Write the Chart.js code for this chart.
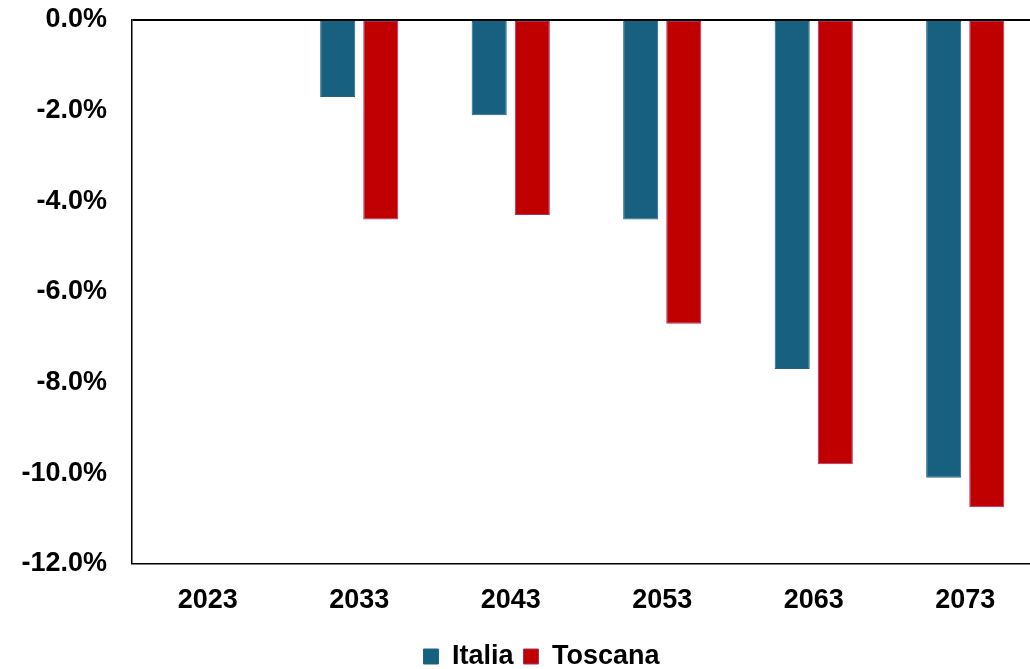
<!DOCTYPE html>
<html>
<head>
<meta charset="utf-8">
<script src="https://cdn.jsdelivr.net/npm/chart.js@4"></script>
<style>
  html, body { margin: 0; padding: 0; background: #fff; overflow: hidden; }
  #wrap { width: 1030px; height: 669px; overflow: hidden; position: relative; }
  #box { width: 1082px; height: 680px; position: absolute; left: 0; top: 0; }
</style>
</head>
<body>
<div id="wrap"><div id="box"><canvas id="c" width="1082" height="680"></canvas></div></div>
<script>
const categories = ['2023', '2033', '2043', '2053', '2063', '2073'];
const italia = [0, -1.7, -2.1, -4.4, -7.7, -10.1];
const toscana = [0, -4.4, -4.3, -6.7, -9.8, -10.75];
const seriesNames = ['Italia', 'Toscana'];

const FONT = { family: '"Liberation Sans", Arial, sans-serif', size: 27, weight: 'bold' };

// shift the legend so it is centred on the full (uncropped) chart width
const legendShift = {
  id: 'legendShift',
  afterLayout(chart) {
    const lg = chart.legend;
    if (!lg) return;
    const dx = 21;
    lg.left += dx; lg.right += dx;
    if (lg.legendHitBoxes) lg.legendHitBoxes.forEach(h => { h.left += dx; });
  }
};

new Chart(document.getElementById('c'), {
  type: 'bar',
  data: {
    labels: categories,
    datasets: [
      { label: seriesNames[0], data: italia, backgroundColor: '#17607F', borderColor: '#1E6585', borderWidth: 1, borderSkipped: false },
      { label: seriesNames[1], data: toscana, backgroundColor: '#C00000', borderColor: '#A8306A', borderWidth: 1, borderSkipped: false }
    ]
  },
  plugins: [legendShift],
  options: {
    responsive: false,
    animation: false,
    devicePixelRatio: 1,
    datasets: { bar: { categoryPercentage: 0.569, barPercentage: 0.814 } },
    layout: { padding: { top: 0, left: 0, right: 41, bottom: 0 } },
    scales: {
      x: {
        grid: { display: false, drawTicks: false },
        border: { display: true, color: '#000', width: 1.5 },
        ticks: { color: '#000', font: FONT, padding: 20, maxRotation: 0 },
        afterFit: (s) => { s.height = 69; s.paddingLeft = 0; s.paddingRight = 0; }
      },
      y: {
        min: -12, max: 0,
        grid: {
          drawTicks: false,
          color: (ctx) => (ctx.tick && ctx.tick.value === 0) ? '#000' : 'rgba(0,0,0,0)',
          lineWidth: (ctx) => (ctx.tick && ctx.tick.value === 0) ? 2 : 0
        },
        border: { display: true, color: '#000', width: 1.5 },
        ticks: {
          stepSize: 2, color: '#000', font: FONT, padding: 25,
          callback: (v) => (Math.abs(v) < 1e-9 ? 0 : v).toFixed(1) + '%'
        },
        afterFit: (s) => { s.width = 132; s.paddingTop = 20; s.paddingBottom = 0; }
      }
    },
    plugins: {
      legend: {
        position: 'bottom',
        labels: { boxWidth: 15, boxHeight: 15, padding: 10, color: '#000', font: FONT }
      },
      tooltip: { enabled: false }
    }
  }
});
</script>
</body>
</html>
